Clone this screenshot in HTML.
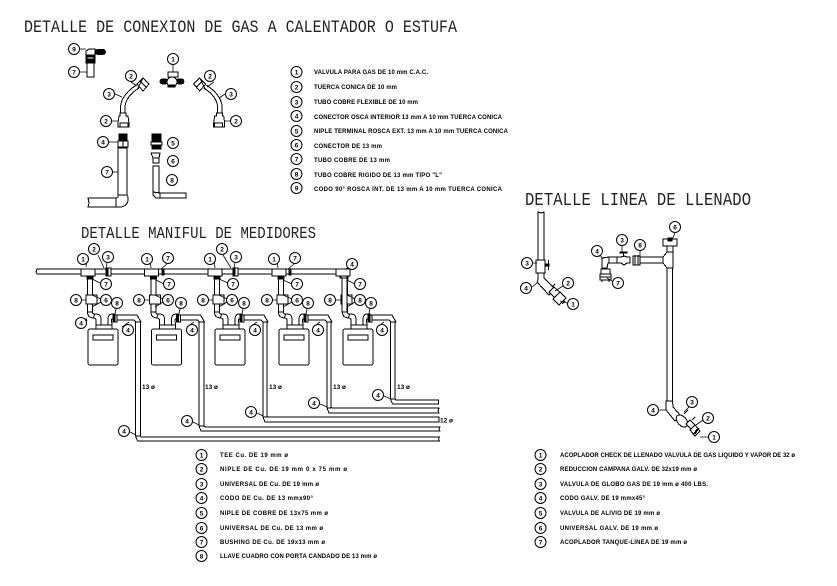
<!DOCTYPE html>
<html><head><meta charset="utf-8"><style>
html,body{margin:0;padding:0;background:#fff}
svg{display:block}
.s{fill:none;stroke:#000;stroke-width:1;shape-rendering:crispEdges}
.w{fill:#fff;stroke:#000;stroke-width:1;shape-rendering:crispEdges}
.b{fill:#000;stroke:#000;stroke-width:.6;shape-rendering:crispEdges}
.l{fill:none;stroke:#000;stroke-width:.8}
.c circle{fill:#fff;stroke:#000;stroke-width:1}
.n text{font:bold 6.5px "Liberation Sans",sans-serif;text-anchor:middle;fill:#000}
.t text{font:bold 6px "Liberation Sans",sans-serif;fill:#000}
.h text{font:15px "Liberation Mono",monospace;fill:#222}
.d text{font:bold 6.5px "Liberation Sans",sans-serif;fill:#000}
</style></head><body>
<svg width="837" height="586" viewBox="0 0 837 586" xmlns="http://www.w3.org/2000/svg">
<defs>
<g id="u">
<rect class="w" x="81" y="269" width="14" height="7"/>
<rect class="b" x="87" y="277" width="6" height="2"/>
<rect class="w" x="87.5" y="279" width="5" height="33"/>
<rect class="w" x="86" y="295" width="11" height="9"/>
<path class="s" d="M87.5 312c0 5 3 6 8 6M92.5 312c0 2 1 2 3 2"/>
<path class="w" d="M95 314c5 0 6 2 6 6v5h7v-5c0-4 1-6 5-6v5c-3 0-1 2-1 6h-16v-1c0-3 1-6-3-6z" style="fill:#fff"/>
<rect class="w" x="96" y="325" width="16" height="4"/>
<rect class="w" x="88" y="329" width="30" height="36" rx="2"/>
<rect class="w" x="93" y="335" width="20" height="5"/>
<rect class="b" x="113" y="314" width="2" height="8"/>
<rect class="w" x="115" y="315" width="2" height="7"/>
<path class="w" d="M117 315h20l4 7h-5l-2-2h-17z"/>
</g>
</defs>
<g class="h">
<text transform="translate(24 32) scale(1 1.2)" textLength="433" lengthAdjust="spacing">DETALLE DE CONEXION DE GAS A CALENTADOR O ESTUFA</text>
<text transform="translate(81 238) scale(1 1.2)" textLength="235" lengthAdjust="spacing" style="font-size:14px">DETALLE MANIFUL DE MEDIDORES</text>
<text transform="translate(525 205) scale(1 1.2)" textLength="226" lengthAdjust="spacing" style="font-size:15.5px">DETALLE LINEA DE LLENADO</text>
</g>

<!-- top-left fittings -->
<path class="w" d="M86 55v-4l3-2h6v6z"/><rect class="b" x="95" y="49.5" width="10.5" height="5" rx="2"/>
<rect class="b" x="86" y="55" width="9" height="8"/><rect class="w" x="87" y="57" width="7" height="2"/>
<rect class="w" x="87" y="63" width="7" height="14"/>
<rect class="w" x="168" y="72" width="10" height="5"/>
<rect class="b" x="160" y="79" width="8" height="5" rx="2"/><rect class="b" x="176" y="79" width="8" height="5" rx="2"/>
<circle class="w" cx="172" cy="82" r="5"/><rect class="b" x="168" y="85" width="7" height="2"/>
<g id="hose">
<path class="s" d="M120.5 113v-5c0-10 8-18 16-23M125 113v-5c0-8 6-15 14-20"/>
<path class="w" d="M120 113h6v3h2l1 7v4h-11v-4l1-7h1z"/>
<rect class="s" x="120" y="123" width="8" height="4"/>
<path class="w" d="M137 84l6-6 6 6-6 7z"/><path class="s" d="M140 81l6 6M143 78l-6 12"/>
</g>
<g transform="translate(342.7 0) scale(-1 1)">
<path class="s" d="M120.5 113v-5c0-10 8-18 16-23M125 113v-5c0-8 6-15 14-20"/>
<path class="w" d="M120 113h6v3h2l1 7v4h-11v-4l1-7h1z"/>
<rect class="s" x="120" y="123" width="8" height="4"/>
<path class="w" d="M137 84l6-6 6 6-6 7z"/><path class="s" d="M140 81l6 6M143 78l-6 12"/>
</g>
<rect class="b" x="119" y="134" width="8" height="7"/><rect class="w" x="118" y="141" width="10" height="6"/><path class="s" d="M123 141v6"/>
<rect class="w" x="118" y="148" width="9" height="47"/>
<path class="w" d="M118 195h9l1 2v3c0 4-4 7-8 7h-4v-9l2-1z"/>
<path class="w" d="M88 198h28v9H88l1-4z"/>
<rect class="b" x="152" y="134" width="9" height="11"/><rect class="w" x="151" y="142" width="11" height="3"/><rect class="b" x="152" y="145" width="9" height="4"/>
<path class="w" d="M151 153h9l-1 5h-6z"/><rect class="w" x="153" y="158" width="6" height="5"/>
<rect class="w" x="153" y="166" width="6" height="28"/>
<path class="w" d="M153 192l7 1v5h-4l-3-3z"/><rect class="w" x="160" y="193" width="26" height="5"/>

<!-- manifold -->
<path class="w" d="M37 269H342l5 3v3l-6 3h-1v-4H37l-1-2z"/>
<use href="#u"/>
<use href="#u" x="63.5"/>
<use href="#u" x="127"/>
<use href="#u" x="191"/>
<use href="#u" x="255"/>
<rect class="b" x="106" y="268" width="2" height="8"/><rect class="w" x="108" y="268" width="3" height="8"/>
<rect class="b" x="233" y="268" width="2" height="8"/><rect class="w" x="235" y="268" width="3" height="8"/>
<rect class="b" x="162" y="269" width="2" height="6"/><rect class="b" x="289" y="269" width="2" height="6"/>
<rect class="w" x="341" y="276" width="6" height="2"/><rect class="w" x="342" y="278" width="5" height="34"/>

<g class="s" style="fill:#fff">
<path d="M135.5 322v114l2 5h302l-1-2 1-2H141l-.5-1V322z"/>
<path d="M199 322v104l2 5h239l-1-2 1-2H205l-1-1V322z"/>
<path d="M263 322v95l2 5h174v-5H268l-1-1V322z"/>
<path d="M327 322v86l2 5h110l-1-2 1-3H332l-1-1V322z"/>
<path d="M390.5 322v77l2 5h46v-4H396l-1-1V322z"/>
<path d="M135.5 436h5M199 426h5M263 417h4M327 408h4M391 399h4"/>
</g>

<!-- fill line detail -->
<path class="w" d="M538 260v-48l3 1 3-1v48z"/>
<rect class="w" x="536" y="260" width="9" height="13"/>
<path class="s" d="M545 265h3M548.5 260v10"/><rect class="b" x="546" y="264" width="3" height="2"/>
<path class="w" d="M538 273h6v5l11 11-6 6-12-13 1-2z"/>
<path class="w" d="M549 292l5-5 7 6-5 6z"/>
<path class="w" d="M553 299l7-7 6 6-7 7z"/>
<path class="s" d="M552 287l3-3M565 301l-3 3"/>
<path class="w" d="M602 258l7-1v6h-1l-1 5h-5z"/>
<rect class="w" x="609" y="257" width="8" height="6"/>
<path class="w" d="M617 257h4l3-1 3 1h3v6h-3l-3 2-3-2h-4z"/>
<path class="s" d="M623.5 252v5"/><rect class="b" x="620" y="252" width="7" height="1"/>
<rect class="w" x="633" y="256" width="7" height="9"/><path class="b" d="M635 255v10M638 255v10"/>
<rect class="w" x="640" y="257" width="23" height="6"/>
<path class="w" d="M663 257l4-5h6v16h-6l-4-5z"/>
<rect class="w" x="667" y="246" width="6" height="6"/>
<rect class="w" x="663" y="239" width="14" height="7"/><rect class="b" x="668" y="238" width="4" height="3"/>
<rect class="w" x="667" y="268" width="5.5" height="133"/>
<rect class="w" x="601" y="269" width="9" height="5"/><rect class="w" x="600" y="274" width="11" height="6"/>
<path class="s" d="M602 280v2M609 280v2M600 277h11"/>
<path class="w" d="M666 401h6.500l.5 6 8 9-6 5-9-11z"/>
<ellipse class="w" cx="682" cy="421" rx="4.500" ry="7" transform="rotate(-42 682 421)"/>
<path class="w" d="M686 424l4-4 6 6-4 4z"/>
<path class="w" d="M690 430l5-5 5 6-5 5z"/>
<path class="s" d="M684 414l4-4M692 420l3-3M697 429l-4 6M699 428l-4 6"/>

<!-- leaders -->
<path class="l" d="M80 49h6M80 72h7M173 65v7M115 94l7 3M131 82l6 4M112 121h6M214 82l-7 5M225 94l-6 4M230 121h-6M109 142h9M113 172h5M
87 259l-1 8M98 255l6 13M107 263l-1 5M100 283l-8-4M82 300h4M101 299l-9-4M101 302l-9 5M116 309l-1 5M87 321l-1-3M122 327l7-5
M150 259l1 9M167 264l-6 5M164 284l-8-4M145 300h4M163 299l-8-4M163 302l-8 5M180 309l-1 5M187 327l7-5
M214 259l1 9M223 255l8 13M235 263l-1 5M228 283l-9-4M209 300h4M227 299l-8-4M227 302l-8 5M243 309l-1 5M250 327l7-5
M277 259l1 9M294 264l-6 5M292 284l-9-4M273 300h4M292 299l-9-4M292 302l-9 5M307 309l-1 5M313 327l7-5
M348 268l-3 1M355 284l-8-4M336 300h5M355 299l-8-4M355 302l-8 5M370 309l-1 5M377 327l7-5
M130 432l6 3M193 422l6 3M257 413l6 3M320 404l7 3M384 396l7 3
M533 263h4M532 287l5-4M563 286l-8 5M567 303l-7-2M600 255l3 4M622 246v6M640 251v5M675 233l-3 7M612 281l-5-3M659 410h7M689 407l-5 5M703 420l-7 5M708 437h-8"/>

<!-- balloons -->
<g class="c">
<circle cx="74" cy="49" r="5.500"/><circle cx="74" cy="72" r="5.500"/><circle cx="173" cy="59" r="5.500"/><circle cx="109" cy="94" r="5.500"/><circle cx="131" cy="76" r="5.500"/><circle cx="106" cy="121" r="5.500"/><circle cx="210" cy="76" r="5.500"/><circle cx="231" cy="94" r="5.500"/><circle cx="236" cy="121" r="5.500"/><circle cx="103" cy="142" r="5.500"/><circle cx="107" cy="172" r="5.500"/><circle cx="173" cy="143" r="5.500"/><circle cx="173" cy="161" r="5.500"/><circle cx="172" cy="180" r="5.500"/>
<circle cx="83" cy="259" r="5.500"/><circle cx="94" cy="249" r="5.500"/><circle cx="108" cy="257" r="5.500"/><circle cx="106" cy="284" r="5.500"/><circle cx="76" cy="300" r="5.500"/><circle cx="106" cy="300" r="5.500"/><circle cx="117" cy="303" r="5.500"/><circle cx="81" cy="323" r="5.500"/><circle cx="128" cy="330" r="5.500"/>
<circle cx="147" cy="259" r="5.500"/><circle cx="168" cy="258" r="5.500"/><circle cx="169" cy="284" r="5.500"/><circle cx="139" cy="300" r="5.500"/><circle cx="168" cy="300" r="5.500"/><circle cx="181" cy="303" r="5.500"/><circle cx="192" cy="330" r="5.500"/>
<circle cx="210" cy="259" r="5.500"/><circle cx="222" cy="249" r="5.500"/><circle cx="236" cy="257" r="5.500"/><circle cx="233" cy="284" r="5.500"/><circle cx="203" cy="300" r="5.500"/><circle cx="232" cy="300" r="5.500"/><circle cx="244" cy="303" r="5.500"/><circle cx="255" cy="330" r="5.500"/>
<circle cx="274" cy="259" r="5.500"/><circle cx="295" cy="258" r="5.500"/><circle cx="297" cy="284" r="5.500"/><circle cx="267" cy="300" r="5.500"/><circle cx="297" cy="300" r="5.500"/><circle cx="308" cy="303" r="5.500"/><circle cx="318" cy="330" r="5.500"/>
<circle cx="352" cy="264" r="5.500"/><circle cx="360" cy="284" r="5.500"/><circle cx="330" cy="300" r="5.500"/><circle cx="360" cy="300" r="5.500"/><circle cx="371" cy="303" r="5.500"/><circle cx="382" cy="330" r="5.500"/>
<circle cx="124" cy="431" r="5.500"/><circle cx="187" cy="421" r="5.500"/><circle cx="251" cy="412" r="5.500"/><circle cx="314" cy="403" r="5.500"/><circle cx="378" cy="395" r="5.500"/>
<circle cx="527" cy="263" r="5.500"/><circle cx="526" cy="288" r="5.500"/><circle cx="568" cy="283" r="5.500"/><circle cx="573" cy="304" r="5.500"/><circle cx="597" cy="251" r="5.500"/><circle cx="622" cy="240" r="5.500"/><circle cx="640" cy="245" r="5.500"/><circle cx="675" cy="227" r="5.500"/><circle cx="618" cy="283" r="5.500"/><circle cx="653" cy="410" r="5.500"/><circle cx="692" cy="402" r="5.500"/><circle cx="708" cy="418" r="5.500"/><circle cx="714" cy="437" r="5.500"/>
<circle cx="296.500" cy="72" r="5.500"/><circle cx="296.500" cy="87" r="5.500"/><circle cx="296.500" cy="102" r="5.500"/><circle cx="296.500" cy="116" r="5.500"/><circle cx="296.500" cy="131" r="5.500"/><circle cx="296.500" cy="145" r="5.500"/><circle cx="296.500" cy="159" r="5.500"/><circle cx="296.500" cy="174" r="5.500"/><circle cx="296.500" cy="188" r="5.500"/>
<circle cx="201.500" cy="455" r="5.500"/><circle cx="201.500" cy="469" r="5.500"/><circle cx="201.500" cy="484" r="5.500"/><circle cx="201.500" cy="498" r="5.500"/><circle cx="201.500" cy="513" r="5.500"/><circle cx="201.500" cy="528" r="5.500"/><circle cx="201.500" cy="542" r="5.500"/><circle cx="201.500" cy="556" r="5.500"/>
<circle cx="540.500" cy="455" r="5.500"/><circle cx="540.500" cy="469" r="5.500"/><circle cx="540.500" cy="484" r="5.500"/><circle cx="540.500" cy="498" r="5.500"/><circle cx="540.500" cy="513" r="5.500"/><circle cx="540.500" cy="528" r="5.500"/><circle cx="540.500" cy="542" r="5.500"/>
</g>
<g class="n">
<text x="74" y="51.500">9</text><text x="74" y="74.500">7</text><text x="173" y="61.500">1</text><text x="109" y="96.500">3</text><text x="131" y="78.500">2</text><text x="106" y="123.500">2</text><text x="210" y="78.500">2</text><text x="231" y="96.500">3</text><text x="236" y="123.500">2</text><text x="103" y="144.500">4</text><text x="107" y="174.500">7</text><text x="173" y="145.500">5</text><text x="173" y="163.500">6</text><text x="172" y="182.500">8</text>
<text x="83" y="261.500">1</text><text x="94" y="251.500">2</text><text x="108" y="259.500">3</text><text x="106" y="286.500">7</text><text x="76" y="302.500">8</text><text x="106" y="302.500">6</text><text x="117" y="305.500">8</text><text x="81" y="325.500">4</text><text x="128" y="332.500">4</text>
<text x="147" y="261.500">1</text><text x="168" y="260.500">7</text><text x="169" y="286.500">7</text><text x="139" y="302.500">8</text><text x="168" y="302.500">6</text><text x="181" y="305.500">8</text><text x="192" y="332.500">4</text>
<text x="210" y="261.500">1</text><text x="222" y="251.500">2</text><text x="236" y="259.500">3</text><text x="233" y="286.500">7</text><text x="203" y="302.500">8</text><text x="232" y="302.500">6</text><text x="244" y="305.500">8</text><text x="255" y="332.500">4</text>
<text x="274" y="261.500">1</text><text x="295" y="260.500">7</text><text x="297" y="286.500">7</text><text x="267" y="302.500">8</text><text x="297" y="302.500">6</text><text x="308" y="305.500">8</text><text x="318" y="332.500">4</text>
<text x="352" y="266.500">4</text><text x="360" y="286.500">7</text><text x="330" y="302.500">8</text><text x="360" y="302.500">8</text><text x="371" y="305.500">8</text><text x="382" y="332.500">4</text>
<text x="124" y="433.500">4</text><text x="187" y="423.500">4</text><text x="251" y="414.500">4</text><text x="314" y="405.500">4</text><text x="378" y="397.500">4</text>
<text x="527" y="265.500">3</text><text x="526" y="290.500">4</text><text x="568" y="285.500">2</text><text x="573" y="306.500">1</text><text x="597" y="253.500">4</text><text x="622" y="242.500">3</text><text x="640" y="247.500">8</text><text x="675" y="229.500">6</text><text x="618" y="285.500">7</text><text x="653" y="412.500">4</text><text x="692" y="404.500">3</text><text x="708" y="420.500">2</text><text x="714" y="439.500">1</text>
<text x="296.500" y="74.500">1</text><text x="296.500" y="89.500">2</text><text x="296.500" y="104.500">3</text><text x="296.500" y="118.500">4</text><text x="296.500" y="133.500">5</text><text x="296.500" y="147.500">6</text><text x="296.500" y="161.500">7</text><text x="296.500" y="176.500">8</text><text x="296.500" y="190.500">9</text>
<text x="201.500" y="457.500">1</text><text x="201.500" y="471.500">2</text><text x="201.500" y="486.500">3</text><text x="201.500" y="500.500">4</text><text x="201.500" y="515.500">5</text><text x="201.500" y="530.500">6</text><text x="201.500" y="544.500">7</text><text x="201.500" y="558.500">8</text>
<text x="540.500" y="457.500">1</text><text x="540.500" y="471.500">2</text><text x="540.500" y="486.500">3</text><text x="540.500" y="500.500">4</text><text x="540.500" y="515.500">5</text><text x="540.500" y="530.500">6</text><text x="540.500" y="544.500">7</text>
</g>
<g class="d">
<text x="142" y="389">13 ø</text><text x="205" y="389">13 ø</text><text x="269" y="389">13 ø</text><text x="333" y="389">13 ø</text><text x="397" y="389">13 ø</text><text x="440" y="422.500">12 ø</text>
</g>
<g class="t">
<text x="314" y="74" textLength="114">VALVULA PARA GAS DE 10 mm C.A.C.</text>
<text x="314" y="89" textLength="83">TUERCA CONICA DE 10 mm</text>
<text x="314" y="104" textLength="104">TUBO COBRE FLEXIBLE DE 10 mm</text>
<text x="314" y="119" textLength="188">CONECTOR OSCA INTERIOR 13 mm A 10 mm TUERCA CONICA</text>
<text x="314" y="133" textLength="194">NIPLE TERMINAL ROSCA EXT. 13 mm A 10 mm TUERCA CONICA</text>
<text x="314" y="148" textLength="68">CONECTOR DE 13 mm</text>
<text x="314" y="162" textLength="76">TUBO COBRE DE 13 mm</text>
<text x="314" y="177" textLength="128">TUBO COBRE RIGIDO DE 13 mm TIPO "L"</text>
<text x="314" y="191" textLength="188">CODO 90° ROSCA INT. DE 13 mm A 10 mm TUERCA CONICA</text>
<text x="220" y="457" textLength="68">TEE Cu. DE 19 mm ø</text>
<text x="220" y="471" textLength="127">NIPLE DE Cu. DE 19 mm 0 x 75 mm ø</text>
<text x="220" y="486" textLength="99">UNIVERSAL DE Cu. DE 19 mm ø</text>
<text x="220" y="500" textLength="93">CODO DE Cu. DE 13 mmx90°</text>
<text x="220" y="515" textLength="108">NIPLE DE COBRE DE 13x75 mm ø</text>
<text x="220" y="530" textLength="103">UNIVERSAL DE Cu. DE 13 mm ø</text>
<text x="220" y="544" textLength="105">BUSHING DE Cu. DE 19x13 mm ø</text>
<text x="220" y="558" textLength="157">LLAVE CUADRO CON PORTA CANDADO DE 13 mm ø</text>
<text x="560" y="457" textLength="235">ACOPLADOR CHECK DE LLENADO VALVULA DE GAS LIQUIDO Y VAPOR DE 32 ø</text>
<text x="560" y="471" textLength="137">REDUCCION CAMPANA GALV. DE 32x19 mm ø</text>
<text x="560" y="486" textLength="148">VALVULA DE GLOBO GAS DE 19 mm ø 400 LBS.</text>
<text x="560" y="500" textLength="85">CODO GALV. DE 19 mmx45°</text>
<text x="560" y="515" textLength="100">VALVULA DE ALIVIO DE 19 mm ø</text>
<text x="560" y="530" textLength="98">UNIVERSAL GALV. DE 19 mm ø</text>
<text x="560" y="544" textLength="127">ACOPLADOR TANQUE-LINEA DE 19 mm ø</text>
</g>
</svg>
</body></html>
